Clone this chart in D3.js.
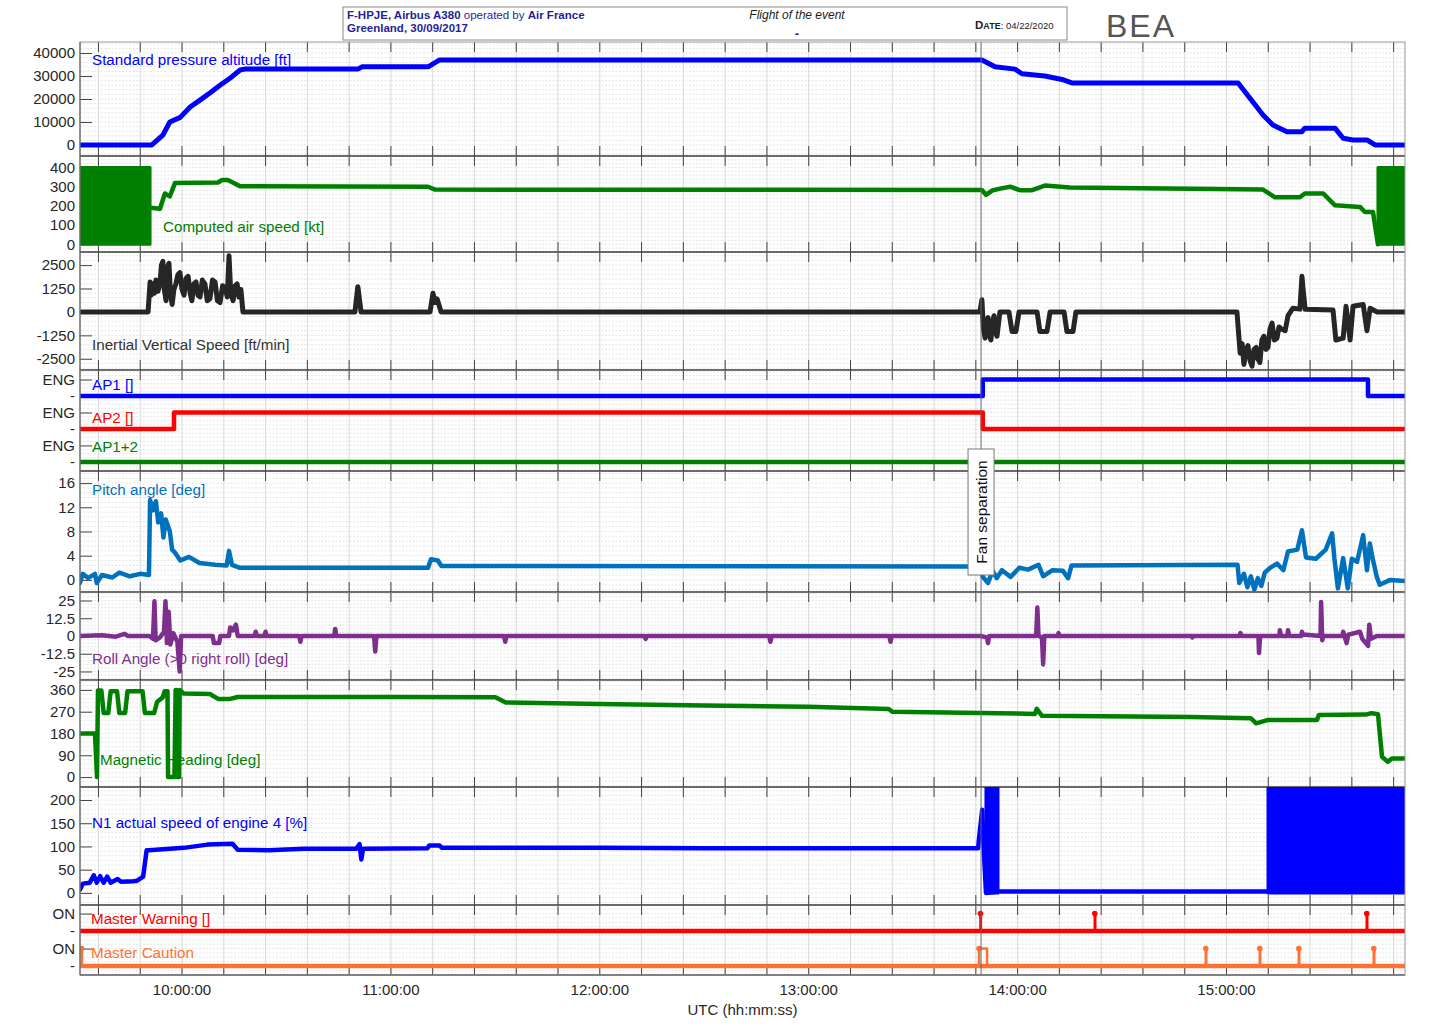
<!DOCTYPE html>
<html>
<head>
<meta charset="utf-8">
<script src="https://cdn.jsdelivr.net/npm/d3@7"></script>
<style>
  body { margin: 0; background: #fff; }
  text { font-family: "Liberation Sans", Arial, sans-serif; }
</style>
</head>
<body>
<svg id="chart" width="1452" height="1028"></svg>
<script>
/*
FLIGHT DATA PLOT: F-HPJE, 30/09/2017
*/

// time span of the recording (UTC)
const timeStart = "9:30:42";
const timeEnd = "15:51:16";
const fanSeparation = "13:49:30";
const hourLabels = ["10:00:00", "11:00:00", "12:00:00", "13:00:00", "14:00:00", "15:00:00"];

// Standard pressure altitude [ft]
const altitude = [
  ["9:30:42", 0], ["9:51:20", 0], ["9:54:30", 4300], ["9:56:30", 10000], ["9:59:30", 12000],
  ["10:02:20", 16500], ["10:05:10", 19500], ["10:08:00", 22600], ["10:10:55", 26000],
  ["10:13:45", 29000], ["10:16:40", 32600], ["10:18:00", 33000], ["10:50:30", 33000],
  ["10:51:40", 34000], ["11:10:40", 34000], ["11:14:00", 37000], ["13:49:45", 37000],
  ["13:53:30", 34000], ["13:59:15", 33000], ["14:01:15", 31000], ["14:07:50", 30000],
  ["14:12:45", 28500], ["14:15:35", 27000], ["15:03:20", 27000], ["15:10:30", 13000],
  ["15:13:20", 8700], ["15:17:20", 5800], ["15:21:40", 5800], ["15:22:30", 7300],
  ["15:31:10", 7300], ["15:33:30", 2900], ["15:36:20", 2200], ["15:40:20", 2200],
  ["15:42:40", 0], ["15:51:16", 0]
];

// Computed air speed [kt]
const airSpeed = [
  ["9:50:49", 190], ["9:53:40", 185], ["9:55:05", 265], ["9:56:30", 250], ["9:58:00", 320],
  ["10:10:20", 322], ["10:11:30", 335], ["10:13:10", 335], ["10:16:40", 303], ["11:10:40", 300],
  ["11:12:40", 285], ["13:49:45", 283], ["13:50:55", 258], ["13:52:40", 280], ["13:55:00", 290],
  ["13:57:50", 300], ["14:00:40", 282], ["14:04:10", 282], ["14:07:50", 306], ["14:15:00", 296],
  ["15:10:30", 285], ["15:13:55", 245], ["15:21:05", 245], ["15:22:30", 265], ["15:27:45", 265],
  ["15:31:10", 203], ["15:38:20", 195], ["15:39:45", 168], ["15:42:05", 168], ["15:43:30", 0]
];
// on ground the value oscillates over its whole range: [from, to, low, high]
const airSpeedBands = [
  ["9:30:42", "9:50:49", 0, 400],
  ["15:43:30", "15:51:16", 0, 400]
];

// Inertial vertical speed [ft/min]
const vertSpeed = [
  ["9:30:42", 0], ["9:50:15", 0], ["9:50:50", 1600], ["9:51:10", 900], ["9:51:40", 1500],
  ["9:52:05", 1000], ["9:52:30", 1700], ["9:53:05", 1100], ["9:53:40", 1500], ["9:54:05", 2500],
  ["9:54:30", 2700], ["9:54:55", 1200], ["9:55:25", 600], ["9:55:50", 2400], ["9:56:15", 2600],
  ["9:56:40", 1000], ["9:57:10", 400], ["9:57:40", 1200], ["9:58:15", 1500], ["9:58:50", 2000],
  ["9:59:25", 2100], ["10:00:00", 1200], ["10:00:35", 900], ["10:01:10", 1800], ["10:01:45", 1900],
  ["10:02:20", 1000], ["10:02:50", 600], ["10:03:25", 1500], ["10:04:00", 1600], ["10:04:35", 900],
  ["10:05:10", 800], ["10:05:50", 1700], ["10:06:35", 1500], ["10:07:15", 600], ["10:08:00", 700],
  ["10:08:45", 1700], ["10:09:30", 1600], ["10:10:10", 600], ["10:10:55", 500], ["10:11:40", 1400],
  ["10:12:20", 1300], ["10:13:00", 800], ["10:13:30", 3000], ["10:14:00", 1000], ["10:14:40", 600],
  ["10:15:15", 1400], ["10:15:50", 1500], ["10:16:20", 800], ["10:16:55", 1200], ["10:17:30", 0],
  ["10:49:40", 0], ["10:50:30", 1350], ["10:51:25", 0], ["11:11:15", 0], ["11:12:05", 1000],
  ["11:12:40", 500], ["11:13:15", 700], ["11:14:25", 0],
  ["13:49:10", 0], ["13:49:45", 650], ["13:50:10", -900], ["13:50:40", -1400], ["13:51:00", -600],
  ["13:51:30", -300], ["13:52:00", -1300], ["13:52:20", -1500], ["13:52:50", -500], ["13:53:15", -200],
  ["13:53:40", -1100], ["13:54:05", -1300], ["13:54:55", 0], ["13:57:30", 0], ["13:58:25", -1050],
  ["13:59:30", -1050], ["14:00:25", 0], ["14:05:35", 0], ["14:06:25", -1050], ["14:08:25", -1050],
  ["14:09:20", 0], ["14:13:20", 0], ["14:14:10", -1050], ["14:15:55", -1050], ["14:16:45", 0],
  ["15:03:00", 0], ["15:03:55", -2200], ["15:04:30", -1700], ["15:05:00", -2800], ["15:05:35", -2000],
  ["15:06:10", -1800], ["15:06:45", -2600], ["15:07:20", -2900], ["15:07:55", -2000], ["15:08:30", -1900],
  ["15:09:00", -2500], ["15:09:35", -2700], ["15:10:10", -1500], ["15:10:45", -1300], ["15:11:20", -2000],
  ["15:11:55", -1900], ["15:12:30", -900], ["15:13:05", -600], ["15:13:45", -1500], ["15:14:30", -1400],
  ["15:15:05", -800], ["15:15:40", -900], ["15:16:50", -1000], ["15:17:40", -200], ["15:19:05", 200],
  ["15:21:05", 150], ["15:21:40", 1900], ["15:22:00", 1200], ["15:22:35", 150], ["15:30:35", 100],
  ["15:31:25", -1500], ["15:33:30", -1400], ["15:34:20", 300], ["15:35:30", -1500], ["15:36:20", 300],
  ["15:39:15", 400], ["15:40:20", -1000], ["15:41:15", 200], ["15:43:15", 0], ["15:51:16", 0]
];

// autopilot states (0 = off, 1 = ENG)
const ap1 = [["9:30:42", 0], ["13:50:00", 1], ["15:40:38", 0], ["15:51:16", 0]];
const ap2 = [["9:30:42", 0], ["9:57:42", 1], ["13:50:00", 0], ["15:51:16", 0]];
const ap12 = [["9:30:42", 0], ["15:51:16", 0]];

// Pitch angle [deg]
const pitch = [
  ["9:30:42", -0.5], ["9:31:30", 1], ["9:33:00", 0.3], ["9:35:00", 1], ["9:35:30", -0.5],
  ["9:37:00", 0.8], ["9:40:00", 0.4], ["9:42:00", 1.2], ["9:45:00", 0.6], ["9:48:00", 1.0],
  ["9:50:30", 0.8], ["9:50:50", 13.2], ["9:51:40", 11.5], ["9:52:30", 13], ["9:53:10", 9.5],
  ["9:54:00", 11], ["9:54:40", 7], ["9:55:20", 10], ["9:56:30", 8], ["9:57:10", 5],
  ["9:58:00", 4.5], ["9:59:30", 3.2], ["10:02:00", 3.8], ["10:05:00", 2.8], ["10:09:30", 2.5],
  ["10:12:50", 2.4], ["10:13:30", 4.8], ["10:14:20", 2.5], ["10:16:40", 2], ["11:10:40", 2],
  ["11:11:30", 3.4], ["11:13:30", 3.2], ["11:14:30", 2.3], ["13:49:30", 2.2], ["13:50:00", 0.5],
  ["13:51:30", -0.5], ["13:52:50", 1.5], ["13:54:00", 0.3], ["13:55:30", 1.6], ["13:58:00", 0.5],
  ["14:00:30", 2.0], ["14:03:00", 1.7], ["14:06:00", 2.5], ["14:07:20", 0.6], ["14:10:00", 1.6],
  ["14:13:00", 1.5], ["14:14:30", 0.3], ["14:15:30", 2.4], ["15:03:10", 2.5], ["15:03:40", -0.5],
  ["15:05:00", 1], ["15:06:00", -1.2], ["15:07:00", 0.6], ["15:08:00", -1.6], ["15:09:00", 0.3],
  ["15:10:00", -1.0], ["15:11:00", 1.2], ["15:12:30", 2.0], ["15:14:30", 2.7], ["15:16:20", 1.6],
  ["15:17:40", 4.7], ["15:20:20", 5], ["15:21:40", 8.2], ["15:22:50", 3.7], ["15:25:40", 3.5],
  ["15:28:30", 5], ["15:30:20", 7.7], ["15:31:00", 3.5], ["15:32:00", -1.4], ["15:33:30", 3.6],
  ["15:34:50", -1.4], ["15:36:00", 3.5], ["15:37:30", 3], ["15:39:15", 7.4], ["15:40:20", 1.6],
  ["15:41:10", 6], ["15:42:00", 3.5], ["15:43:10", 0.5], ["15:44:00", -0.8], ["15:47:00", 0],
  ["15:51:16", -0.2]
];

// Roll angle (>0 right roll) [deg]
const roll = [
  ["9:30:42", 0], ["9:37:00", 0.5], ["9:41:00", -0.5], ["9:43:30", 1.5], ["9:44:30", 0],
  ["9:50:40", 0], ["9:51:40", -2], ["9:52:05", 24.5], ["9:52:25", -3], ["9:53:40", -1],
  ["9:54:50", 3], ["9:55:15", 24.5], ["9:55:40", -5], ["9:56:10", 17], ["9:56:40", -6],
  ["9:57:30", 2], ["9:58:40", -4], ["9:59:20", -25], ["9:59:45", 0], ["10:08:50", 0],
  ["10:09:10", -5], ["10:10:40", -5], ["10:11:00", 0], ["10:13:30", 0], ["10:13:50", 6],
  ["10:14:40", 4], ["10:15:30", 8], ["10:16:00", 0], ["10:20:50", 0], ["10:21:10", 3],
  ["10:21:30", 0], ["10:23:40", 0], ["10:24:00", 3], ["10:24:20", 0], ["10:33:40", 0],
  ["10:34:00", -4], ["10:34:20", 0], ["10:43:40", 0], ["10:44:00", 5], ["10:44:20", 0],
  ["10:55:10", 0], ["10:55:30", -11], ["10:55:50", 0], ["11:32:30", 0], ["11:32:50", -4],
  ["11:33:10", 0], ["12:12:50", 0], ["12:13:10", -2], ["12:13:30", 0], ["12:48:40", 0],
  ["12:49:00", -4], ["12:49:20", 0], ["13:23:10", 0], ["13:23:30", -4], ["13:23:50", 0],
  ["13:49:30", 0], ["13:51:10", -1], ["13:51:30", -5], ["13:51:50", 0], ["14:05:20", 0],
  ["14:05:40", 20], ["14:06:00", 0], ["14:07:00", -1], ["14:07:20", -20], ["14:07:40", 0],
  ["14:11:30", 0], ["14:11:45", 2], ["14:12:00", 0], ["14:50:00", 0], ["14:50:10", -1],
  ["14:50:20", 0], ["15:03:40", 0], ["15:04:00", 2], ["15:04:20", 0], ["15:09:10", 0],
  ["15:09:20", -12], ["15:09:40", 0], ["15:15:10", 0], ["15:15:20", 4], ["15:15:40", 0],
  ["15:17:30", 0], ["15:17:40", 4], ["15:18:00", 0], ["15:21:30", 0], ["15:21:40", 3],
  ["15:22:00", 1], ["15:27:00", 0], ["15:27:10", 24], ["15:27:30", -3], ["15:27:50", 0],
  ["15:33:20", 0], ["15:33:30", 3], ["15:34:30", -5], ["15:35:00", 1], ["15:38:20", 3],
  ["15:39:00", -2], ["15:40:40", -7], ["15:41:00", 8], ["15:41:30", -2], ["15:43:10", 0],
  ["15:51:16", 0]
];

// Magnetic heading [deg]
const heading = [
  ["9:30:42", 180], ["9:35:00", 180], ["9:35:35", 0], ["9:35:52", 358], ["9:36:50", 358],
  ["9:37:30", 265], ["9:38:50", 265], ["9:39:30", 355], ["9:41:20", 355], ["9:42:00", 265],
  ["9:43:40", 265], ["9:44:20", 355], ["9:48:40", 355], ["9:49:20", 265], ["9:52:00", 265],
  ["9:52:50", 310], ["9:54:30", 330], ["9:55:00", 355], ["9:55:50", 355], ["9:56:00", 0],
  ["9:57:50", 0], ["9:58:10", 360], ["9:58:30", 360], ["9:58:40", 0], ["9:59:10", 0],
  ["9:59:20", 360], ["10:00:30", 345], ["10:08:00", 343], ["10:10:30", 322], ["10:13:30", 322],
  ["10:16:00", 331], ["11:00:00", 331], ["11:30:00", 330], ["11:33:00", 308], ["12:00:00", 302],
  ["12:30:00", 296], ["13:00:00", 290], ["13:23:00", 281], ["13:24:00", 270], ["13:49:30", 265],
  ["14:05:00", 261], ["14:05:30", 282], ["14:07:00", 253], ["14:50:00", 248], ["15:07:00", 243],
  ["15:08:30", 222], ["15:12:00", 236], ["15:26:00", 236], ["15:26:30", 256], ["15:40:00", 258],
  ["15:41:40", 264], ["15:43:30", 260], ["15:44:40", 84], ["15:46:20", 63], ["15:47:30", 77],
  ["15:51:16", 77]
];

// N1 actual speed of engine 4 [%]
const n1 = [
  ["9:30:42", 7], ["9:31:30", 20], ["9:33:30", 22], ["9:34:40", 38], ["9:35:30", 22],
  ["9:36:30", 36], ["9:37:30", 22], ["9:38:30", 35], ["9:39:30", 22], ["9:41:30", 30],
  ["9:42:30", 24], ["9:46:00", 25], ["9:47:00", 26], ["9:48:50", 35], ["9:49:50", 92],
  ["9:50:30", 92], ["10:00:30", 97], ["10:07:20", 104], ["10:14:30", 106], ["10:16:00", 93],
  ["10:25:00", 92], ["10:35:00", 95], ["10:50:00", 95], ["10:51:00", 105], ["10:51:30", 72],
  ["10:52:00", 95], ["11:10:30", 96], ["11:11:00", 102], ["11:14:00", 102], ["11:14:40", 97],
  ["12:00:00", 97], ["12:30:00", 96], ["13:00:00", 96], ["13:48:40", 96], ["13:48:50", 111],
  ["13:49:50", 179], ["13:50:10", 110], ["13:50:55", 0], ["13:54:22", 3], ["15:11:55", 3]
];
const n1Bands = [
  ["13:50:55", "13:54:22", 0, 240],
  ["15:11:55", "15:51:16", 0, 240]
];

// Master warning / master caution: periods ON [from, to]
const masterWarning = [["13:49:20", "13:49:28"], ["14:22:10", "14:22:18"], ["15:40:17", "15:40:25"]];
const masterCaution = [["9:31:10", "9:31:16"], ["13:48:55", "13:51:13"], ["14:54:03", "14:54:11"],
  ["15:09:33", "15:09:41"], ["15:20:46", "15:20:54"], ["15:42:18", "15:42:26"]];

/* ---------------------------------------------------------------- */

const svg = d3.select("#chart");
const left = 80;
const right = 1405;

const parseT = (s) => {
  const p = s.split(":").map(Number);
  return new Date(2017, 8, 30, p[0], p[1], p[2] || 0);
};

const x = d3.scaleTime()
  .domain([parseT(timeStart), parseT(timeEnd)])
  .range([left, right]);

const gridTimes = d3.timeMinute.every(12).range(parseT(timeStart), parseT(timeEnd));

const panels = [
  { id: "alt", top: 42, bottom: 156, domain: [-4800, 44800], ticks: [0, 10000, 20000, 30000, 40000], minor: 2000 },
  { id: "cas", top: 156, bottom: 252, domain: [-40, 460], ticks: [0, 100, 200, 300, 400], minor: 20 },
  { id: "vs", top: 252, bottom: 370, domain: [-3100, 3200], ticks: [-2500, -1250, 0, 1250, 2500], minor: 250 },
  { id: "ap", top: 370, bottom: 471, domain: [-0.55, 5.58], ticks: [0, 1, 2, 3, 4, 5], minor: 0.25,
    labels: ["-", "ENG", "-", "ENG", "-", "ENG"] },
  { id: "pitch", top: 471, bottom: 592, domain: [-2, 18], ticks: [0, 4, 8, 12, 16], minor: 0.8 },
  { id: "roll", top: 592, bottom: 680, domain: [-31, 31], ticks: [-25, -12.5, 0, 12.5, 25], minor: 2.5 },
  { id: "hdg", top: 680, bottom: 787, domain: [-41, 401], ticks: [0, 90, 180, 270, 360], minor: 18 },
  { id: "n1", top: 787, bottom: 905, domain: [-26, 228], ticks: [0, 50, 100, 150, 200], minor: 10 },
  { id: "mw", top: 905, bottom: 975, domain: [-0.51, 3.49], ticks: [0, 1, 2, 3], minor: 0.25,
    labels: ["-", "ON", "-", "ON"] }
];

const defs = svg.append("defs");
const scales = {};
const layers = {};

panels.forEach((p) => {
  const y = d3.scaleLinear().domain(p.domain).range([p.bottom, p.top]);
  scales[p.id] = y;

  defs.append("clipPath").attr("id", "clip-" + p.id)
    .append("rect")
    .attr("x", left).attr("y", p.top)
    .attr("width", right - left).attr("height", p.bottom - p.top);

  const grid = svg.append("g");
  // fine horizontal grid
  const first = Math.ceil(p.domain[0] / p.minor) * p.minor;
  d3.range(first, p.domain[1], p.minor).forEach((v) => {
    grid.append("line")
      .attr("x1", left).attr("x2", right)
      .attr("y1", y(v)).attr("y2", y(v))
      .attr("stroke", "#dedede").attr("stroke-width", 0.8)
      .attr("stroke-dasharray", "2,1.5");
  });
  // vertical grid
  gridTimes.forEach((t) => {
    grid.append("line")
      .attr("x1", x(t)).attr("x2", x(t))
      .attr("y1", p.top).attr("y2", p.bottom)
      .attr("stroke", "#dadada").attr("stroke-width", 1);
  });
  // time ticks on top and bottom edges, pointing inward
  gridTimes.forEach((t) => {
    grid.append("line")
      .attr("x1", x(t)).attr("x2", x(t))
      .attr("y1", p.top).attr("y2", p.top + 10)
      .attr("stroke", "#444").attr("stroke-width", 1);
    grid.append("line")
      .attr("x1", x(t)).attr("x2", x(t))
      .attr("y1", p.bottom - 10).attr("y2", p.bottom)
      .attr("stroke", "#444").attr("stroke-width", 1);
  });

  // y axis
  const axis = d3.axisLeft(y)
    .tickValues(p.ticks)
    .tickSizeInner(-12)
    .tickSizeOuter(0)
    .tickPadding(5)
    .tickFormat((d, i) => (p.labels ? p.labels[i] : String(d)));
  const ax = svg.append("g").attr("transform", `translate(${left},0)`).call(axis);
  ax.select(".domain").remove();
  ax.selectAll(".tick line").attr("stroke", "#444");
  ax.selectAll(".tick text")
    .attr("x", -5)
    .attr("font-size", 15)
    .attr("font-family", "Liberation Sans, Arial, sans-serif")
    .attr("fill", "#262626");

  // separator below the panel
  svg.append("line")
    .attr("x1", left).attr("x2", right)
    .attr("y1", p.bottom).attr("y2", p.bottom)
    .attr("stroke", "#3a3a3a").attr("stroke-width", 1.3);

  layers[p.id] = svg.append("g").attr("clip-path", `url(#clip-${p.id})`);
});

// outer frame
svg.append("rect")
  .attr("x", left).attr("y", panels[0].top)
  .attr("width", right - left).attr("height", panels[panels.length - 1].bottom - panels[0].top)
  .attr("fill", "none").attr("stroke", "#999").attr("stroke-width", 1);
svg.append("line")
  .attr("x1", left).attr("x2", left)
  .attr("y1", panels[0].top).attr("y2", panels[panels.length - 1].bottom)
  .attr("stroke", "#555").attr("stroke-width", 1);

// fan separation marker line
svg.append("line")
  .attr("x1", x(parseT(fanSeparation))).attr("x2", x(parseT(fanSeparation)))
  .attr("y1", panels[0].top).attr("y2", panels[panels.length - 1].bottom)
  .attr("stroke", "#666").attr("stroke-width", 1);

// series labels, drawn under the curves
function label(id, text, lx, ly, color) {
  layers[id].append("text")
    .text(text)
    .attr("x", lx).attr("y", ly)
    .attr("font-size", 15.2)
    .attr("fill", color);
}

function drawLine(id, data, color, width, curve, offset) {
  const y = scales[id];
  const off = offset || 0;
  layers[id].append("path")
    .datum(data)
    .attr("fill", "none")
    .attr("stroke", color)
    .attr("stroke-width", width)
    .attr("stroke-linejoin", "round")
    .attr("stroke-linecap", "round")
    .attr("d", d3.line()
      .x((d) => x(parseT(d[0])))
      .y((d) => y(d[1] + off))
      .curve(curve || d3.curveLinear));
}

function drawBands(id, bands, color) {
  const y = scales[id];
  layers[id].selectAll(null)
    .data(bands)
    .enter()
    .append("rect")
    .attr("x", (d) => x(parseT(d[0])))
    .attr("width", (d) => x(parseT(d[1])) - x(parseT(d[0])))
    .attr("y", (d) => y(d[3]))
    .attr("height", (d) => y(d[2]) - y(d[3]))
    .attr("fill", color)
    .attr("stroke", color)
    .attr("stroke-width", 3)
    .attr("stroke-linejoin", "round");
}

function drawDiscrete(id, periods, offset, color) {
  // turn ON periods into a step trace
  const y = scales[id];
  const pts = [[timeStart, 0]];
  periods.forEach((pr) => {
    pts.push([pr[0], 0], [pr[0], 1], [pr[1], 1], [pr[1], 0]);
  });
  pts.push([timeEnd, 0]);
  drawLine(id, pts, color, 2.5, d3.curveLinear, offset);
  // base line thicker
  drawLine(id, [[timeStart, 0], [timeEnd, 0]], color, 4.5, d3.curveLinear, offset);
  layers[id].selectAll(null)
    .data(periods)
    .enter()
    .append("circle")
    .attr("cx", (d) => x(parseT(d[0])))
    .attr("cy", y(1 + offset))
    .attr("r", 2.8)
    .attr("fill", color);
}

label("alt", "Standard pressure altitude [ft]", 92, 65, "#0000ff");
drawLine("alt", altitude, "#0000ff", 5);

label("cas", "Computed air speed [kt]", 163, 232, "#008000");
drawBands("cas", airSpeedBands, "#008000");
drawLine("cas", airSpeed, "#008000", 4.5);

label("vs", "Inertial Vertical Speed [ft/min]", 92, 350, "#333333");
drawLine("vs", vertSpeed, "#262626", 5);

label("ap", "AP1 []", 92, 390, "#0000ff");
label("ap", "AP2 []", 92, 423, "#ff0000");
label("ap", "AP1+2", 92, 452, "#008000");
drawLine("ap", ap1, "#0000ff", 4.5, d3.curveStepAfter, 4);
drawLine("ap", ap2, "#ff0000", 4.5, d3.curveStepAfter, 2);
drawLine("ap", ap12, "#008000", 4.5, d3.curveStepAfter, 0);

label("pitch", "Pitch angle [deg]", 92, 495, "#0072bd");
drawLine("pitch", pitch, "#0072bd", 4.5);

label("roll", "Roll Angle (>0 right roll) [deg]", 92, 664, "#7e2f8e");
drawLine("roll", roll, "#7e2f8e", 4.5);

label("hdg", "Magnetic Heading [deg]", 100, 765, "#008000");
drawLine("hdg", heading, "#008000", 4.5);

label("n1", "N1 actual speed of engine 4 [%]", 92, 828, "#0000ff");
drawBands("n1", n1Bands, "#0000ff");
drawLine("n1", n1, "#0000ff", 4.5);

label("mw", "Master Warning []", 91, 924, "#ff0000");
label("mw", "Master Caution", 91, 958, "#ff7033");
drawDiscrete("mw", masterWarning, 2, "#ff0000");
drawDiscrete("mw", masterCaution, 0, "#ff7033");

// fan separation label
const fx = x(parseT(fanSeparation));
svg.append("rect")
  .attr("x", fx - 13).attr("y", 449)
  .attr("width", 26).attr("height", 126)
  .attr("fill", "#fff").attr("stroke", "#777").attr("stroke-width", 1);
svg.append("text")
  .text("Fan separation")
  .attr("transform", `translate(${fx + 6},512) rotate(-90)`)
  .attr("text-anchor", "middle")
  .attr("font-size", 15.5)
  .attr("fill", "#111");

// time axis labels
svg.append("g")
  .selectAll("text")
  .data(hourLabels)
  .enter()
  .append("text")
  .text((d) => d)
  .attr("x", (d) => x(parseT(d)))
  .attr("y", 995)
  .attr("text-anchor", "middle")
  .attr("font-size", 15)
  .attr("fill", "#262626");

svg.append("text")
  .text("UTC (hh:mm:ss)")
  .attr("x", (left + right) / 2)
  .attr("y", 1015)
  .attr("text-anchor", "middle")
  .attr("font-size", 15)
  .attr("fill", "#262626");

// header cartouche
const head = svg.append("g");
head.append("rect")
  .attr("x", 343).attr("y", 7).attr("width", 724).attr("height", 33)
  .attr("fill", "#fff").attr("stroke", "#888").attr("stroke-width", 1);

const narrow = "Liberation Sans Narrow, Arial Narrow, Liberation Sans, sans-serif";
const l1 = head.append("text").attr("x", 347).attr("y", 19)
  .attr("font-size", 11.5).attr("font-family", narrow).attr("fill", "#1f1f99");
l1.append("tspan").text("F-HPJE, Airbus A380").attr("font-weight", "bold");
l1.append("tspan").text(" operated by ");
l1.append("tspan").text("Air France").attr("font-weight", "bold");
head.append("text").text("Greenland, 30/09/2017")
  .attr("x", 347).attr("y", 32)
  .attr("font-size", 11.5).attr("font-family", narrow)
  .attr("font-weight", "bold").attr("fill", "#1f1f99");

head.append("text").text("Flight of the event")
  .attr("x", 797).attr("y", 19).attr("text-anchor", "middle")
  .attr("font-size", 12).attr("font-family", narrow)
  .attr("font-style", "italic").attr("fill", "#222");
head.append("text").text("-")
  .attr("x", 797).attr("y", 38).attr("text-anchor", "middle")
  .attr("font-size", 12).attr("font-weight", "bold").attr("fill", "#222");

const dt = head.append("text").attr("x", 975).attr("y", 29)
  .attr("font-family", narrow).attr("fill", "#222");
dt.append("tspan").text("D").attr("font-size", 11.5).attr("font-weight", "bold");
dt.append("tspan").text("ATE").attr("font-size", 9).attr("font-weight", "bold");
dt.append("tspan").text(": 04/22/2020").attr("font-size", 9.5);

svg.append("text").text("BEA")
  .attr("x", 1106).attr("y", 37)
  .attr("font-size", 32)
  .attr("font-family", "DejaVu Sans, sans-serif")
  .attr("letter-spacing", 2)
  .attr("fill", "#555");
</script>
</body>
</html>
